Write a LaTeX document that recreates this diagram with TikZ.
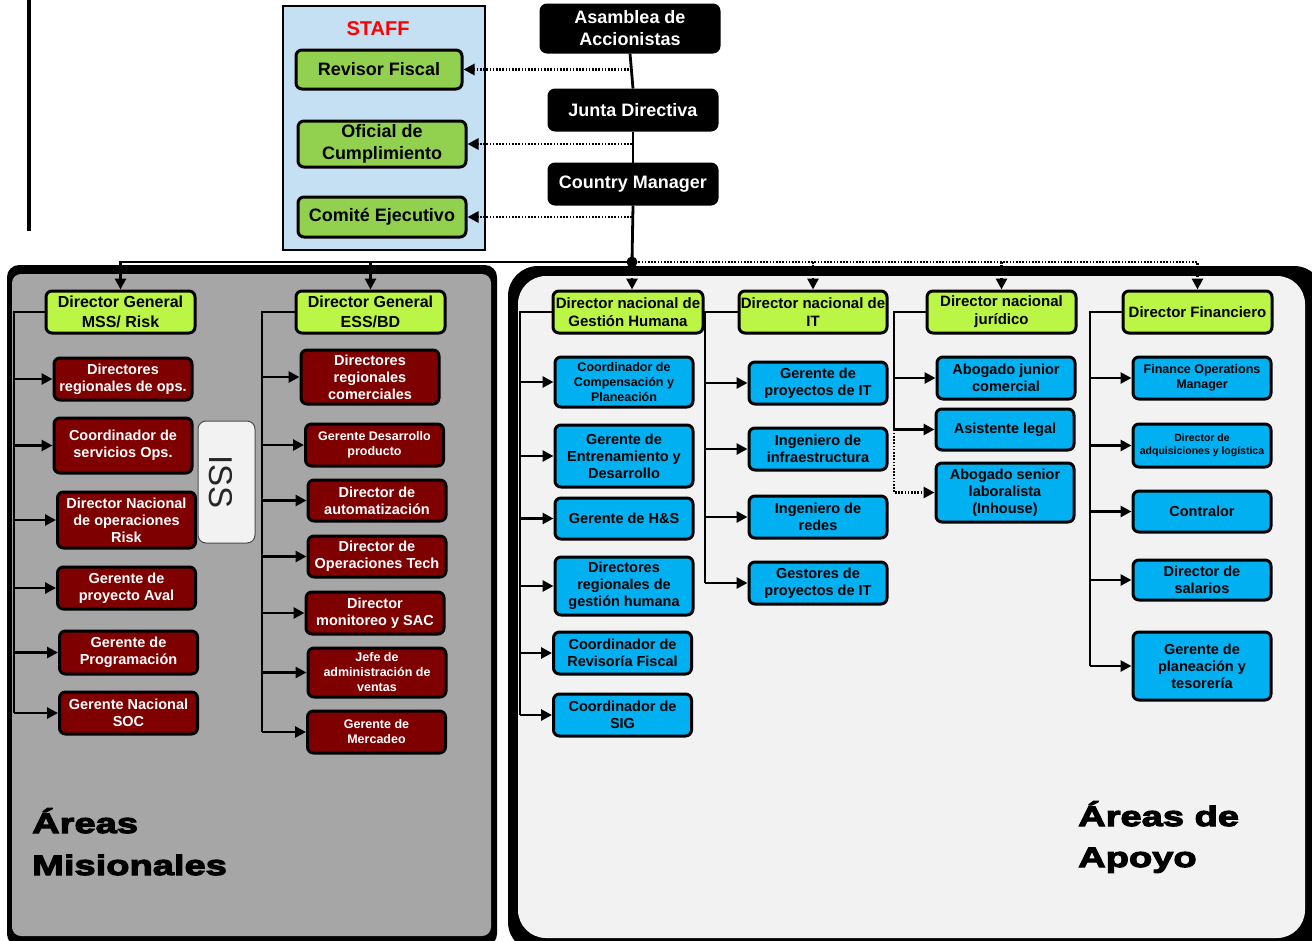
\documentclass[tikz,border=0pt]{standalone}
\usepackage{fontspec}
\setmainfont{Liberation Sans}
\newfontfamily\areafont{Liberation Sans}[FakeStretch=1.36,FakeBold=4]
\usetikzlibrary{arrows.meta}
\definecolor{panelgray}{HTML}{A6A6A6}
\definecolor{panellight}{HTML}{F2F2F2}
\definecolor{staffblue}{HTML}{C5E0F2}
\definecolor{staffgreen}{HTML}{92D050}
\definecolor{dirlime}{HTML}{BBF545}
\definecolor{misred}{HTML}{7F0000}
\definecolor{apoyoblue}{HTML}{00B0F0}
\begin{document}
\begin{tikzpicture}[x=1pt,y=1pt]
    \tikzstyle{every node}+=[inner sep=0pt, align=center]
    \tikzstyle{box}=[draw=black, line width=3pt, rounded corners=6pt, font=\bfseries\fontsize{14.5}{17}\selectfont]
    \tikzstyle{staffbox}=[box, fill=staffgreen, font=\bfseries\fontsize{18}{22}\selectfont]
    \tikzstyle{bossbox}=[box, fill=black, text=white, font=\bfseries\fontsize{18}{22}\selectfont]
    \tikzstyle{dirbox}=[box, fill=dirlime, minimum height=42pt, font=\bfseries\fontsize{15}{18}\selectfont]
    \tikzstyle{redbox}=[box, fill=misred, text=white, minimum width=138pt]
    \tikzstyle{bluebox}=[box, fill=apoyoblue, minimum width=138pt]
    \tikzstyle{small}=[font=\bfseries\fontsize{12.5}{15}\selectfont]
    \tikzstyle{tiny}=[font=\bfseries\fontsize{10.5}{13}\selectfont]
    \tikzstyle{link}=[line width=2.8pt, black, -{Triangle[length=11pt,width=11pt]}]
    \tikzstyle{bus}=[line width=2.8pt, black]
    \tikzstyle{dots}=[line width=2.8pt, black, dash pattern=on 1.6pt off 1.6pt]
    \useasboundingbox (0,0) rectangle (1312,-940);
    % panels
    \begin{scope}
        \clip (0,0) rectangle (1312,-940);
        \fill[rounded corners=12pt] (7,-265) rectangle (497,-946);
        \fill[panelgray, rounded corners=9pt] (12,-274) rectangle (491,-936);
        \fill[rounded corners=30pt] (508,-266) rectangle (1324,-952);
        \fill[panellight, rounded corners=28pt] (518,-276) rectangle (1305,-938);
    \end{scope}
    \draw[line width=4pt] (29,0) -- (29,-231);
    \draw[line width=1.6pt, fill=staffblue] (283,-6) rectangle (485,-250);
    \node[text=red, font=\bfseries\fontsize{20}{24}\selectfont] (stafftitle) at (378,-29) {STAFF};
    \node[staffbox, minimum width=166pt, minimum height=39pt] (rf) at (379,-69.5) {Revisor Fiscal};
    \node[staffbox, minimum width=168pt, minimum height=46pt] (oc) at (382,-144) {Oficial de\\Cumplimiento};
    \node[staffbox, minimum width=168pt, minimum height=40pt] (ce) at (382,-217) {Comité Ejecutivo};
    \node[bossbox, minimum width=178pt, minimum height=47pt] (asam) at (630,-28.5) {Asamblea de\\Accionistas};
    \node[bossbox, minimum width=168pt, minimum height=40pt] (junta) at (633,-110) {Junta Directiva};
    \node[bossbox, minimum width=168pt, minimum height=40pt] (cm) at (633,-184) {Country Manager};
    \coordinate (hub) at (632,-262);
    % directores
    \node[dirbox, minimum width=149pt, font=\bfseries\fontsize{16}{20}\selectfont] (mss) at (120.5,-312) {Director General\\MSS/ Risk};
    \node[dirbox, minimum width=149pt, font=\bfseries\fontsize{16}{20}\selectfont] (ess) at (370.5,-312) {Director General\\ESS/BD};
    \node[dirbox, minimum width=150pt] (gh) at (628,-312) {Director nacional de\\Gestión Humana};
    \node[dirbox, minimum width=148pt] (it) at (813,-312) {Director nacional de\\IT};
    \node[dirbox, minimum width=149pt] (jur) at (1001.5,-312) {Director nacional\\jurídico};
    \node[dirbox, minimum width=149pt] (fin) at (1197.5,-312) {Director Financiero};
    % areas misionales
    \node[redbox, minimum height=42pt] (m1) at (123,-379) {Directores\\regionales de ops.};
    \node[redbox, minimum height=55pt] (m2) at (123,-445.5) {Coordinador de\\servicios Ops.};
    \node[redbox, minimum height=56pt] (m3) at (126.5,-520) {Director Nacional\\de operaciones\\Risk};
    \node[redbox, minimum height=42pt] (m4) at (126.5,-588) {Gerente de\\proyecto Aval};
    \node[redbox, minimum height=43pt] (m5) at (128.5,-652.5) {Gerente de\\Programación};
    \node[redbox, minimum height=42pt] (m6) at (128.5,-713) {Gerente Nacional\\SOC};
    \node[draw=black!70, line width=1pt, fill=panellight, rounded corners=8pt, minimum width=57pt, minimum height=122pt] (iss) at (226.5,-482) {};
    \node[rotate=-90, text=black!85, font=\fontsize{33}{36}\selectfont] (isstext) at (221,-482) {ISS};
    \node[redbox, minimum height=54pt] (e1) at (370,-377) {Directores\\regionales\\comerciales};
    \node[redbox, small, minimum height=42pt] (e2) at (374.5,-445) {Gerente Desarrollo\\producto};
    \node[redbox, minimum height=41pt] (e3) at (377,-500.5) {Director de\\automatización};
    \node[redbox, minimum height=41pt] (e4) at (377,-556.5) {Director de\\Operaciones Tech};
    \node[redbox, minimum height=42pt] (e5) at (375,-613) {Director\\monitoreo y SAC};
    \node[redbox, small, minimum height=49pt] (e6) at (377,-672.5) {Jefe de\\administración de\\ventas};
    \node[redbox, small, minimum height=42pt] (e7) at (376.5,-732) {Gerente de\\Mercadeo};
    % areas de apoyo
    \node[bluebox, small, minimum height=50pt] (g1) at (624,-382) {Coordinador de\\Compensación y\\Planeación};
    \node[bluebox, minimum height=62pt] (g2) at (624,-456) {Gerente de\\Entrenamiento y\\Desarrollo};
    \node[bluebox, minimum height=41pt] (g3) at (624,-518.5) {Gerente de H\&S};
    \node[bluebox, minimum height=58pt] (g4) at (624,-586) {Directores\\regionales de\\gestión humana};
    \node[bluebox, minimum height=42pt] (g5) at (622.5,-653) {Coordinador de\\Revisoría Fiscal};
    \node[bluebox, minimum height=42pt] (g6) at (622.5,-715) {Coordinador de\\SIG};
    \node[bluebox, minimum height=42pt] (i1) at (818,-383) {Gerente de\\proyectos de IT};
    \node[bluebox, minimum height=42pt] (i2) at (818,-449) {Ingeniero de\\infraestructura};
    \node[bluebox, minimum height=42pt] (i3) at (818,-517) {Ingeniero de\\redes};
    \node[bluebox, minimum height=42pt] (i4) at (818,-583) {Gestores de\\proyectos de IT};
    \node[bluebox, minimum height=42pt] (j1) at (1006,-378) {Abogado junior\\comercial};
    \node[bluebox, minimum height=41pt] (j2) at (1005,-429.5) {Asistente legal};
    \node[bluebox, minimum height=59pt] (j3) at (1005,-492.5) {Abogado senior\\laboralista\\(Inhouse)};
    \node[bluebox, small, minimum height=42pt] (f1) at (1202,-378) {Finance Operations\\Manager};
    \node[bluebox, tiny, minimum height=43pt] (f2) at (1202,-445.5) {Director de\\adquisiciones y logística};
    \node[bluebox, minimum height=41pt] (f3) at (1202,-511.5) {Contralor};
    \node[bluebox, minimum height=40pt] (f4) at (1202,-580) {Director de\\salarios};
    \node[bluebox, minimum height=68pt] (f5) at (1202,-666) {Gerente de\\planeación y\\tesorería};
    \node[anchor=base west, align=left, font=\areafont\bfseries\fontsize{28}{42}\selectfont] (misionales) at (32,-875) {Áreas\\Misionales};
    \node[anchor=base west, align=left, font=\areafont\bfseries\fontsize{28}{41}\selectfont] (apoyo) at (1078,-867) {Áreas de\\Apoyo};
    % lineas de mando
    \draw[bus] (asam.south) -- (junta.north);
    \draw[bus] (junta.south) -- (cm.north);
    \draw[bus] (cm.south) -- (hub);
    \fill (hub) circle (5.5pt);
    \draw[dots, link] (hub |- rf.east) -- (rf.east);
    \draw[dots, link] (hub |- oc.east) -- (oc.east);
    \draw[dots, link] (hub |- ce.east) -- (ce.east);
    \draw[link] (hub) -| (mss.north);
    \draw[link] (hub) -| (ess.north);
    \draw[dots, link] (hub) -| (fin.north);
    \draw[dots, link] (hub) -- (hub |- gh.north);
    \draw[dots, link] (hub -| it) -- (it.north);
    \draw[dots, link] (hub -| jur) -- (jur.north);
    \coordinate (mssbus) at (14,-312);
    \coordinate (essbus) at (262,-312);
    \coordinate (ghbus) at (520,-312);
    \coordinate (itbus) at (705,-312);
    \coordinate (jurbus) at (894,-312);
    \coordinate (finbus) at (1090,-312);
    \draw[bus] (mss.west) -- (mssbus) -- (mssbus |- m6.west);
    \foreach \n in {m1,m2,m3,m4,m5,m6} \draw[link] (mssbus |- \n.west) -- (\n.west);
    \draw[bus] (ess.west) -- (essbus) -- (essbus |- e7.west);
    \foreach \n in {e1,e2,e3,e4,e5,e6,e7} \draw[link] (essbus |- \n.west) -- (\n.west);
    \draw[bus] (gh.west) -- (ghbus) -- (ghbus |- g6.west);
    \foreach \n in {g1,g2,g3,g4,g5,g6} \draw[link] (ghbus |- \n.west) -- (\n.west);
    \draw[bus] (it.west) -- (itbus) -- (itbus |- i4.west);
    \foreach \n in {i1,i2,i3,i4} \draw[link] (itbus |- \n.west) -- (\n.west);
    \draw[bus] (jur.west) -- (jurbus) -- (jurbus |- j2.west);
    \foreach \n in {j1,j2} \draw[link] (jurbus |- \n.west) -- (\n.west);
    \draw[dots, link] (jurbus |- j2.west) |- (j3.west);
    \draw[bus] (fin.west) -- (finbus) -- (finbus |- f5.west);
    \foreach \n in {f1,f2,f3,f4,f5} \draw[link] (finbus |- \n.west) -- (\n.west);
\end{tikzpicture}
\end{document}
